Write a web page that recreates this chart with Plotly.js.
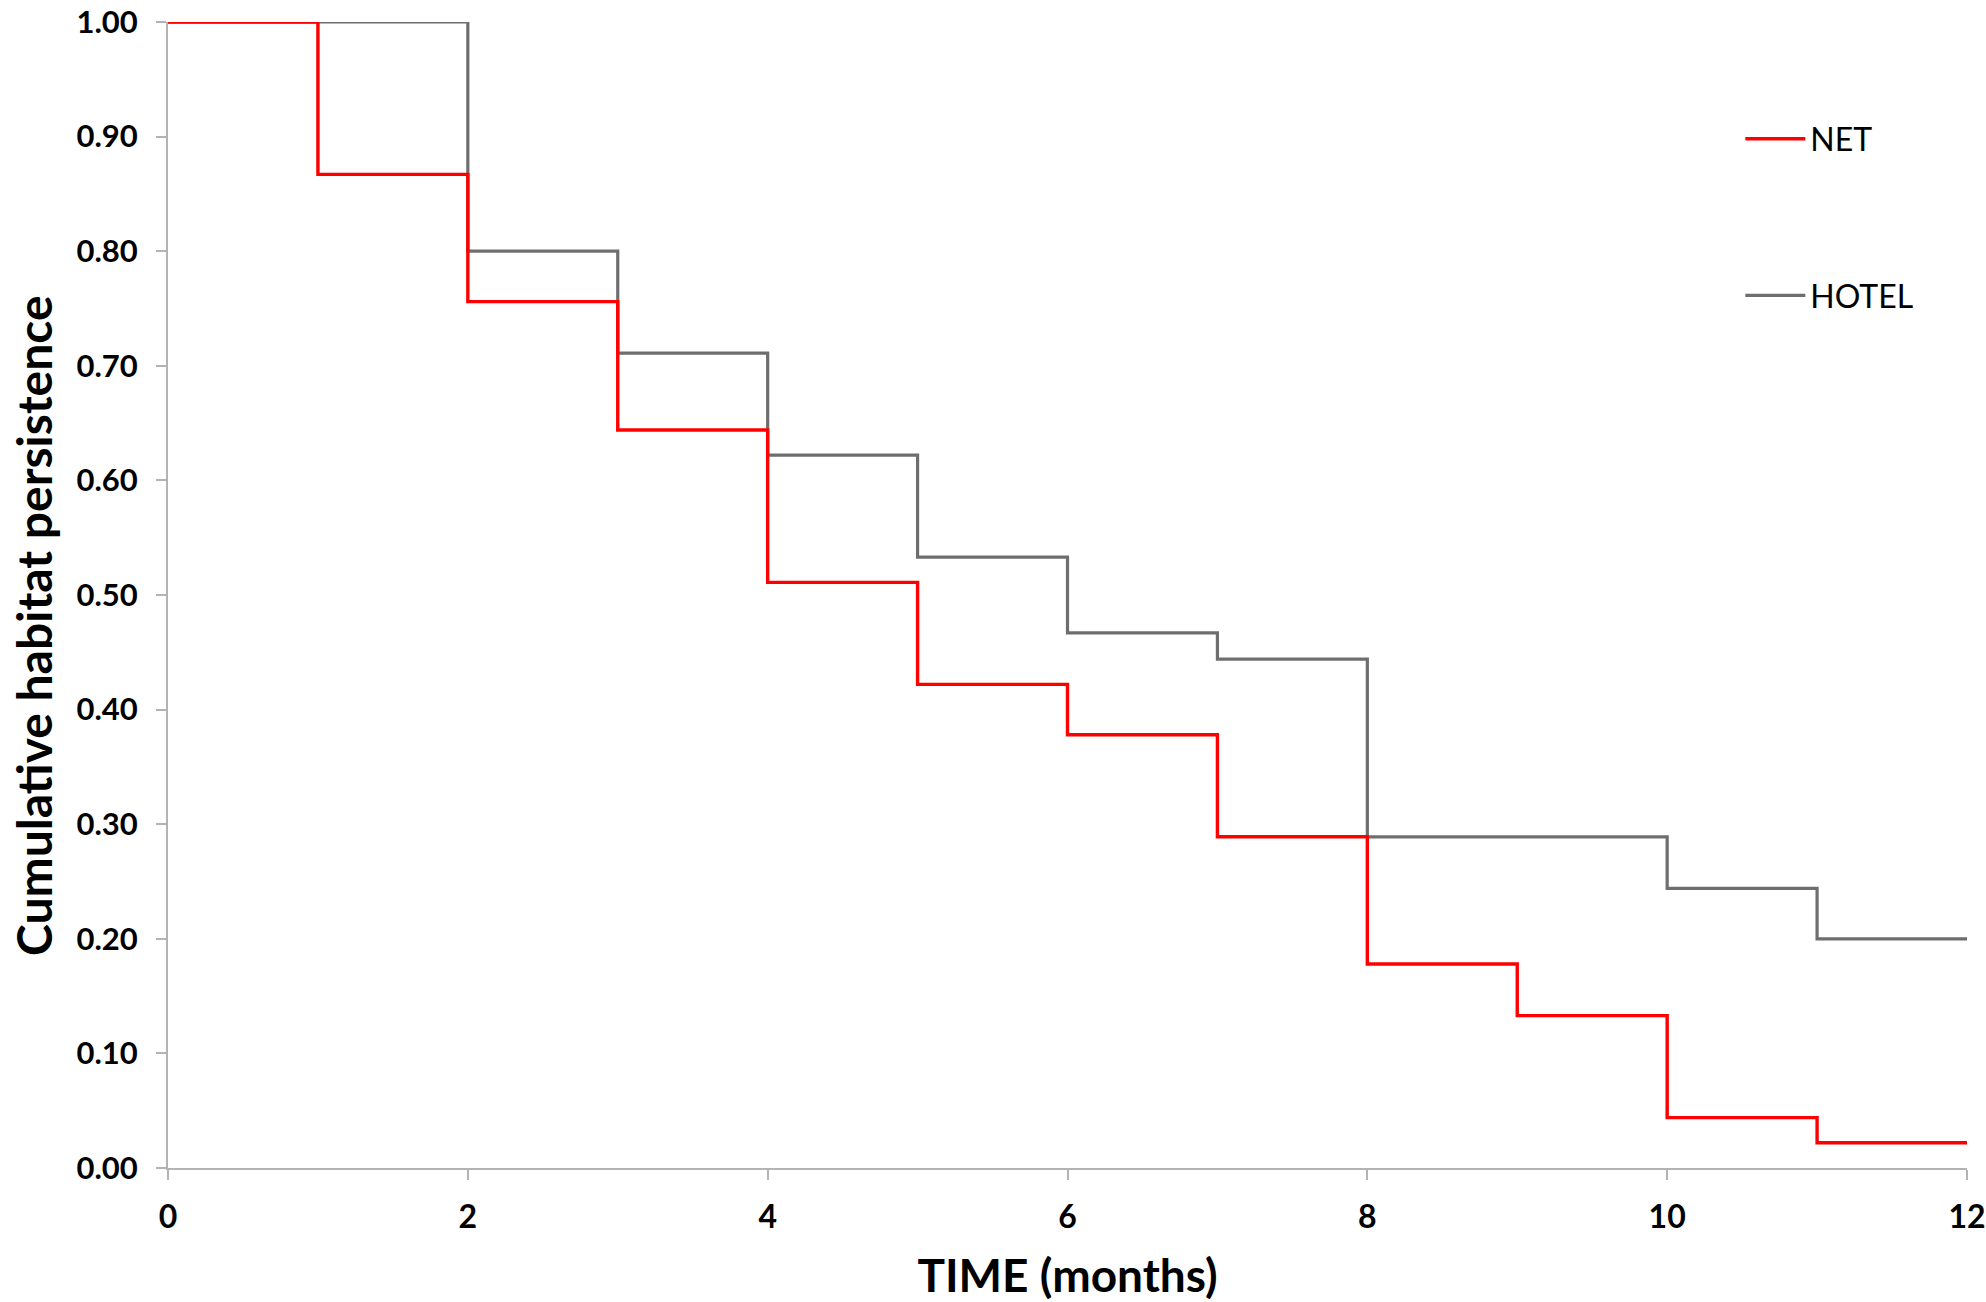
<!DOCTYPE html>
<html>
<head>
<meta charset="utf-8">
<script src="https://cdn.plot.ly/plotly-3.0.1.min.js"></script>
<style>
  html, body { margin: 0; padding: 0; background: #fff; }
  #myDiv { width: 1986px; height: 1302px; }
</style>
</head>
<body>
<div id="myDiv"></div>
<script>
var months = [0, 1, 2, 3, 4, 5, 6, 7, 8, 9, 10, 11, 12];
var netValues = [1.00, 0.867, 0.756, 0.644, 0.511, 0.422, 0.378, 0.289, 0.178, 0.133, 0.044, 0.022, 0.022];
var hotelValues = [1.00, 1.00, 0.80, 0.711, 0.622, 0.533, 0.467, 0.444, 0.289, 0.289, 0.244, 0.20, 0.20];
var yTicks = [0, 0.1, 0.2, 0.3, 0.4, 0.5, 0.6, 0.7, 0.8, 0.9, 1.0];
var xTicks = [0, 2, 4, 6, 8, 10, 12];

var font = 'Lato, "Open Sans", sans-serif';

var trace1 = {
  x: months,
  y: hotelValues,
  mode: 'lines',
  name: 'HOTEL',
  legendgroup: 'b',
  legendrank: 2,
  line: {shape: 'hv', color: '#6e6e6e', width: 3.2},
};

var trace2 = {
  x: months,
  y: netValues,
  mode: 'lines',
  name: 'NET',
  legendgroup: 'a',
  legendrank: 1,
  line: {shape: 'hv', color: '#ff0000', width: 3.4},
};

var data = [trace1, trace2];

var layout = {
  autosize: false,
  width: 1986,
  height: 1302,
  margin: {l: 168, r: 19, t: 22, b: 134},
  paper_bgcolor: '#ffffff',
  plot_bgcolor: '#ffffff',
  font: {family: font, color: '#000000'},
  showlegend: true,
  legend: {
    x: 0.874,
    y: 0.922,
    xanchor: 'left',
    yanchor: 'top',
    traceorder: 'grouped',
    tracegroupgap: 112,
    itemwidth: 60,
    font: {size: 32, family: font, color: '#000000'},
    bgcolor: 'rgba(0,0,0,0)',
  },
  annotations: [{
    text: '<b>Cumulative habitat persistence</b>',
    font: {size: 48, family: font, color: '#000000'},
    textangle: -90,
    xref: 'paper',
    yref: 'paper',
    x: 0,
    y: 0.473,
    xanchor: 'center',
    yanchor: 'middle',
    xshift: -134,
    showarrow: false,
  }],
  xaxis: {
    title: {
      text: '<b>TIME (months)</b>',
      font: {size: 46, family: font},
      standoff: 34,
    },
    range: [0, 12],
    tickvals: xTicks,
    tickfont: {size: 32, family: font, weight: 'bold'},
    showgrid: false,
    zeroline: false,
    showline: true,
    linecolor: '#b3b3b3',
    linewidth: 2,
    ticks: 'outside',
    ticklen: 10,
    tickwidth: 2,
    tickcolor: '#b3b3b3',
    ticklabelstandoff: 10,
    ticklabeloverflow: 'allow',
  },
  yaxis: {
    range: [0, 1],
    tickvals: yTicks,
    tickformat: '.2f',
    tickfont: {size: 31, family: font, weight: 'bold'},
    showgrid: false,
    zeroline: false,
    showline: true,
    linecolor: '#b3b3b3',
    linewidth: 2,
    ticks: 'outside',
    ticklen: 10,
    tickwidth: 2,
    tickcolor: '#b3b3b3',
    ticklabelstandoff: 12,
    ticklabeloverflow: 'allow',
  }
};

Plotly.newPlot('myDiv', data, layout, {displayModeBar: false});
</script>
</body>
</html>
